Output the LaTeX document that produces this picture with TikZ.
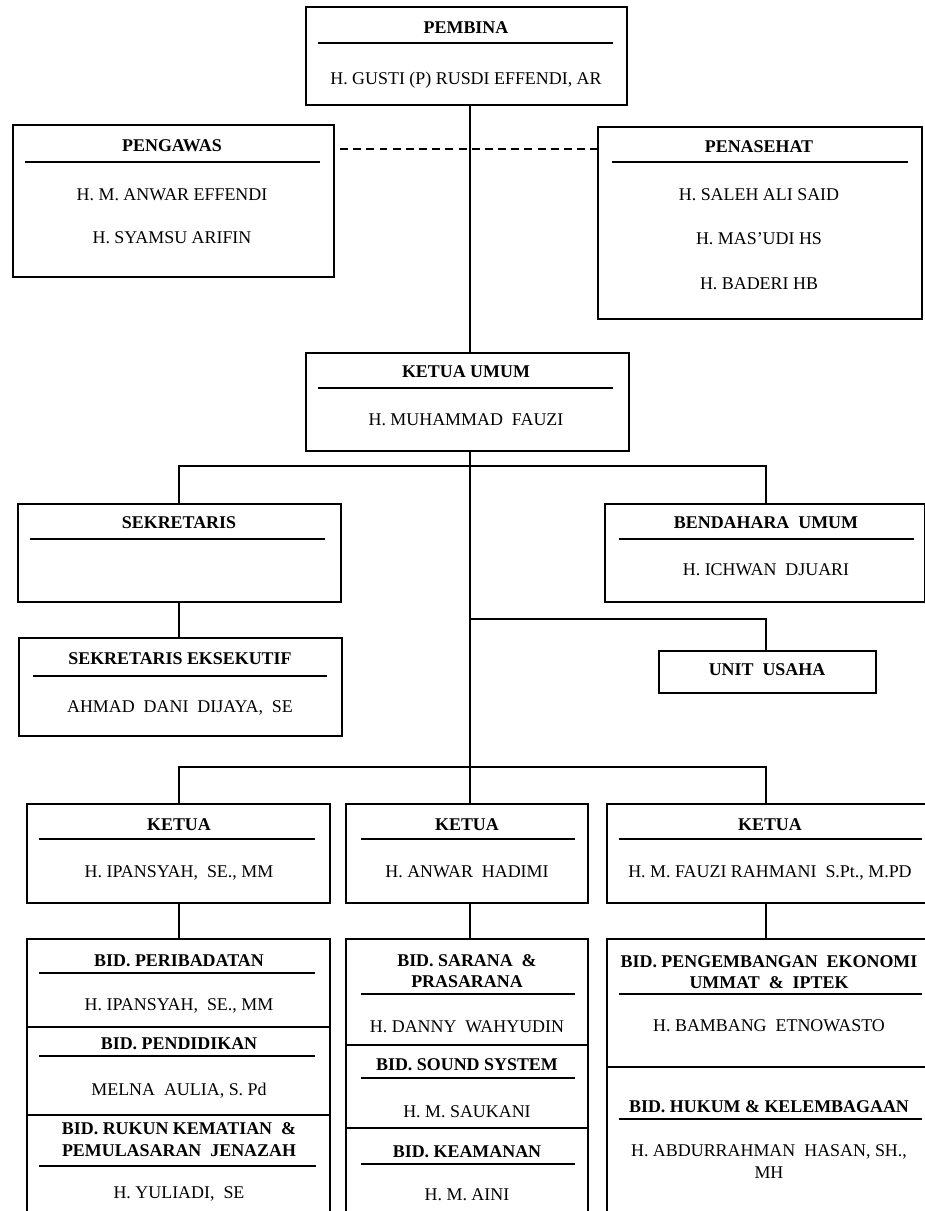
\documentclass[tikz,border=0pt]{standalone}
\usepackage{fontspec}
\setmainfont{Liberation Serif}

\tikzset{
	unitbox/.style={draw, line width=1.6pt, inner sep=0, outer sep=0},
	titletext/.style={inner sep=0, text height=6.7pt, text depth=0pt, font=\fontsize{10.2}{12}\selectfont\bfseries},
	nametext/.style={inner sep=0, text height=6.7pt, text depth=0pt, font=\fontsize{10.2}{12}\selectfont},
	sepline/.style={line width=0.9pt},
	divline/.style={line width=0.7pt},
	link/.style={line width=0.6pt},
	dashlink/.style={line width=0.6pt, dash pattern=on 4.5pt off 3pt}
}

\newcommand{\orgbox}[5]{
	\node[unitbox, minimum width={(#4-#2)*0.02cm}, minimum height={(#5-#3)*0.02cm}] (#1) at ({(#2+#4)/2},{(#3+#5)/2}) {};
}
\newcommand{\sepat}[3]{
	\draw[sepline] (#1,#3) -- (#2,#3);
}
\newcommand{\divat}[2]{
	\draw[divline] (#1.west |- 0,#2) -- (#1.east |- 0,#2);
}

\begin{document}
\begin{tikzpicture}[x=0.02cm, y=-0.02cm]
	\useasboundingbox (0,0) rectangle (925,1211);
	\clip (0,0) rectangle (925,1211);

	\coordinate (trunk) at (470,0);
	\coordinate (colL) at (179,0);
	\coordinate (colR) at (766,0);

	\orgbox{pembina}{306}{7}{627}{105}
	\node[titletext] (pembina-t) at (466,28) {PEMBINA};
	\sepat{318}{613}{43}
	\node[nametext] (pembina-n) at (466,79) {H. GUSTI (P) RUSDI EFFENDI, AR};

	\orgbox{pengawas}{13}{125}{334}{277}
	\node[titletext] (pengawas-t) at (172,146) {PENGAWAS};
	\sepat{25}{320}{162}
	\node[nametext] (pengawas-n1) at (172,195) {H. M. ANWAR EFFENDI};
	\node[nametext] (pengawas-n2) at (172,238) {H. SYAMSU ARIFIN};

	\orgbox{penasehat}{598}{127}{922}{319}
	\node[titletext] (penasehat-t) at (759,147) {PENASEHAT};
	\sepat{612}{908}{162}
	\node[nametext] (penasehat-n1) at (759,195) {H. SALEH ALI SAID};
	\node[nametext] (penasehat-n2) at (759,239) {H. MAS'UDI HS};
	\node[nametext] (penasehat-n3) at (759,284) {H. BADERI HB};

	\orgbox{ketuaumum}{306}{353}{629}{451}
	\node[titletext] (ketuaumum-t) at (466,372) {KETUA UMUM};
	\sepat{318}{613}{388}
	\node[nametext] (ketuaumum-n) at (466,420) {H. MUHAMMAD\ \ FAUZI};

	\orgbox{sekretaris}{18}{504}{341}{602}
	\node[titletext] (sekretaris-t) at (179,523) {SEKRETARIS};
	\sepat{30}{325}{539}

	\orgbox{sekeks}{19}{638}{342}{736}
	\node[titletext] (sekeks-t) at (180,659) {SEKRETARIS EKSEKUTIF};
	\sepat{33}{327}{676}
	\node[nametext] (sekeks-n) at (180,707) {AHMAD\ \ DANI\ \ DIJAYA,\ \ SE};

	\orgbox{bendahara}{605}{504}{925}{602}
	\node[titletext] (bendahara-t) at (766,523) {BENDAHARA\ \ UMUM};
	\sepat{619}{914}{539}
	\node[nametext] (bendahara-n) at (766,570) {H. ICHWAN\ \ DJUARI};

	\orgbox{unitusaha}{659}{651}{876}{693}
	\node[titletext] (unitusaha-t) at (767,670) {UNIT\ \ USAHA};

	\orgbox{ketua1}{27}{804}{330}{903}
	\node[titletext] (ketua1-t) at (179,825) {KETUA};
	\sepat{39}{315}{839}
	\node[nametext] (ketua1-n) at (179,872) {H. IPANSYAH,\ \ SE., MM};

	\orgbox{ketua2}{346}{804}{588}{903}
	\node[titletext] (ketua2-t) at (467,825) {KETUA};
	\sepat{361}{575}{839}
	\node[nametext] (ketua2-n) at (467,872) {H. ANWAR\ \ HADIMI};

	\orgbox{ketua3}{607}{804}{930}{903}
	\node[titletext] (ketua3-t) at (770,825) {KETUA};
	\sepat{619}{922}{839}
	\node[nametext] (ketua3-n) at (770,872) {H. M. FAUZI RAHMANI\ \ S.Pt., M.PD};

	\orgbox{bid1}{27}{939}{330}{1240}
	\node[titletext] (bid1-t1) at (179,961) {BID. PERIBADATAN};
	\sepat{39}{315}{973}
	\node[nametext] (bid1-n1) at (179,1005) {H. IPANSYAH,\ \ SE., MM};
	\divat{bid1}{1027}
	\node[titletext] (bid1-t2) at (179,1044) {BID. PENDIDIKAN};
	\sepat{39}{315}{1056}
	\node[nametext] (bid1-n2) at (179,1090) {MELNA\ \ AULIA, S. Pd};
	\divat{bid1}{1115}
	\node[titletext] (bid1-t3a) at (179,1129) {BID. RUKUN KEMATIAN\ \ \&};
	\node[titletext] (bid1-t3b) at (179,1151) {PEMULASARAN\ \ JENAZAH};
	\sepat{39}{316}{1166}
	\node[nametext] (bid1-n3) at (179,1193) {H. YULIADI,\ \ SE};

	\orgbox{bid2}{346}{939}{588}{1240}
	\node[titletext] (bid2-t1a) at (467,961) {BID. SARANA\ \ \&};
	\node[titletext] (bid2-t1b) at (467,982) {PRASARANA};
	\sepat{361}{575}{994}
	\node[nametext] (bid2-n1) at (467,1027) {H. DANNY\ \ WAHYUDIN};
	\divat{bid2}{1045}
	\node[titletext] (bid2-t2) at (467,1065) {BID. SOUND SYSTEM};
	\sepat{361}{575}{1078}
	\node[nametext] (bid2-n2) at (467,1112) {H. M. SAUKANI};
	\divat{bid2}{1128}
	\node[titletext] (bid2-t3) at (467,1152) {BID. KEAMANAN};
	\sepat{361}{575}{1164}
	\node[nametext] (bid2-n3) at (467,1195) {H. M. AINI};

	\orgbox{bid3}{607}{939}{930}{1240}
	\node[titletext] (bid3-t1a) at (769,962) {BID. PENGEMBANGAN\ \ EKONOMI};
	\node[titletext] (bid3-t1b) at (769,983) {UMMAT\ \ \&\ \ IPTEK};
	\sepat{619}{922}{994}
	\node[nametext] (bid3-n1) at (769,1026) {H. BAMBANG\ \ ETNOWASTO};
	\divat{bid3}{1067}
	\node[titletext] (bid3-t2) at (769,1107) {BID. HUKUM \& KELEMBAGAAN};
	\sepat{619}{922}{1119}
	\node[nametext] (bid3-n2a) at (769,1151) {H. ABDURRAHMAN\ \ HASAN, SH.,};
	\node[nametext] (bid3-n2b) at (769,1173) {MH};

	\coordinate (dashstart) at (340,149);
	\coordinate (jA) at (470,466);
	\coordinate (jB) at (470,619);
	\coordinate (jC) at (470,767);

	\draw[dashlink] (dashstart) -- (penasehat.west |- dashstart);
	\draw[link] (pembina.south -| trunk) -- (ketuaumum.north -| trunk);
	\draw[link] (ketuaumum.south -| trunk) -- (ketua2.north -| trunk);
	\draw[link] (sekretaris.north -| colL) |- (jA) -| (bendahara.north -| colR);
	\draw[link] (sekretaris.south -| colL) -- (sekeks.north -| colL);
	\draw[link] (jB) -| (unitusaha.north -| colR);
	\draw[link] (ketua1.north -| colL) |- (jC) -| (ketua3.north -| colR);
	\draw[link] (ketua1.south -| colL) -- (bid1.north -| colL);
	\draw[link] (ketua2.south -| trunk) -- (bid2.north -| trunk);
	\draw[link] (ketua3.south -| colR) -- (bid3.north -| colR);
\end{tikzpicture}
\end{document}
